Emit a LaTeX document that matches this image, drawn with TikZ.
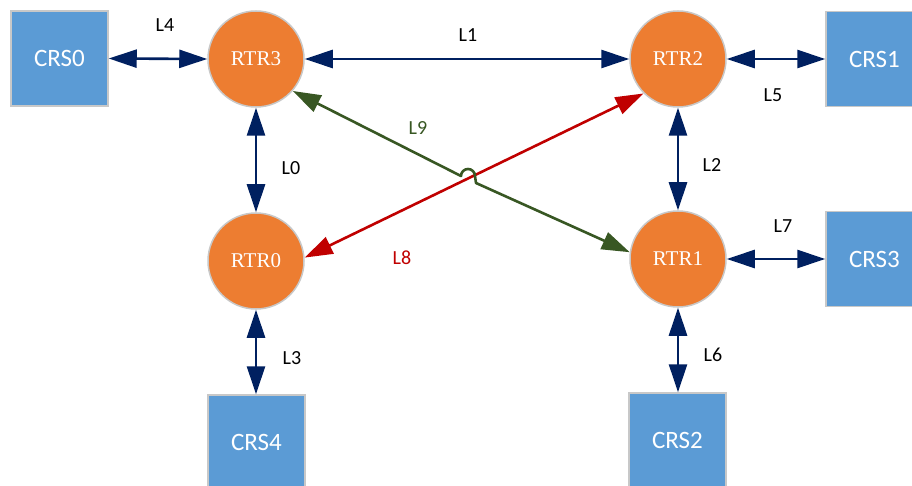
\documentclass[tikz,border=0pt]{standalone}
\usepackage{fontspec}
\setmainfont{Carlito}
\newfontfamily\rtrfont{Liberation Serif}
\usetikzlibrary{arrows.meta}
\definecolor{rtrorange}{HTML}{ED7D31}
\definecolor{crsblue}{HTML}{5B9BD5}
\definecolor{bordergray}{HTML}{C8C8C8}
\definecolor{navy}{HTML}{002060}
\definecolor{lgreen}{HTML}{385723}
\definecolor{lred}{HTML}{C00000}
\tikzset{
  rtr/.style={circle, fill=rtrorange, draw=bordergray, line width=1.5pt, minimum size=96pt, inner sep=0pt, text=white, font=\rtrfont\fontsize{21}{24}\selectfont},
  crs/.style={rectangle, fill=crsblue, draw=bordergray, line width=1.5pt, minimum width=97pt, minimum height=95pt, inner sep=0pt, text=white, font=\fontsize{25}{28}\selectfont},
  link/.style={draw=navy, line width=2.6pt, {Triangle[length=28pt,width=18pt]}-{Triangle[length=28pt,width=18pt]}},
  glink/.style={draw=lgreen, line width=2.6pt, line join=round, {Triangle[length=28pt,width=18pt]}-{Triangle[length=28pt,width=18pt]}},
  rlink/.style={draw=lred, line width=2.6pt, {Triangle[length=28pt,width=18pt]}-{Triangle[length=28pt,width=18pt]}},
  lbl/.style={font=\fontsize{20}{23}\selectfont, text=black, inner sep=0pt}
}
\begin{document}
\begin{tikzpicture}[x=1pt,y=-1pt]
\useasboundingbox (0,0) rectangle (912,486);
\clip (0,0) rectangle (912,486);
\fill[white] (0,0) rectangle (912,486);
% nodes
\node[crs] (crs0) at (59.5,58.5) {CRS0};
\node[rtr] (rtr3) at (256,59) {RTR3};
\node[rtr] (rtr2) at (678,59) {RTR2};
\node[crs] (crs1) at (874.5,59) {CRS1};
\node[rtr] (rtr0) at (256,261) {RTR0};
\node[rtr] (rtr1) at (678,259) {RTR1};
\node[crs] (crs3) at (874.5,259) {CRS3};
\node[crs] (crs4) at (256.5,442.5) {CRS4};
\node[crs] (crs2) at (677.5,440.5) {CRS2};
% links
\draw[link] (crs0.east) -- (rtr3.west);
\draw[link] (rtr3.east) -- (rtr2.west);
\draw[link] (rtr2.east) -- (rtr2.east -| crs1.west);
\draw[link] (rtr3.south) -- (rtr0.north);
\draw[link] (rtr0.south) -- (rtr0.south |- crs4.north);
\draw[link] (rtr2.south) -- (rtr1.north);
\draw[link] (rtr1.south) -- (rtr1.south |- crs2.north);
\draw[link] (rtr1.east) -- (rtr1.east -| crs3.west);
% crossing links
\coordinate (hopa) at (461,176);
\coordinate (hopb) at (476,183);
\draw[rlink] (rtr0.4) -- (rtr2.225);
\draw[glink] (rtr3.-41) -- (hopa) arc[start angle=180, end angle=360, radius=7] -- (hopb) -- (rtr1.172);
% labels
\node[lbl] (l4) at (165,25) {L4};
\node[lbl] (l1) at (468,35) {L1};
\node[lbl] (l5) at (773,95) {L5};
\node[lbl] (l0) at (291,168) {L0};
\node[lbl] (l2) at (712,165) {L2};
\node[lbl, text=lgreen] (l9) at (418,128) {L9};
\node[lbl, text=lred] (l8) at (402,258) {L8};
\node[lbl] (l7) at (783,226) {L7};
\node[lbl] (l3) at (292,358) {L3};
\node[lbl] (l6) at (713,355) {L6};
\end{tikzpicture}
\end{document}
